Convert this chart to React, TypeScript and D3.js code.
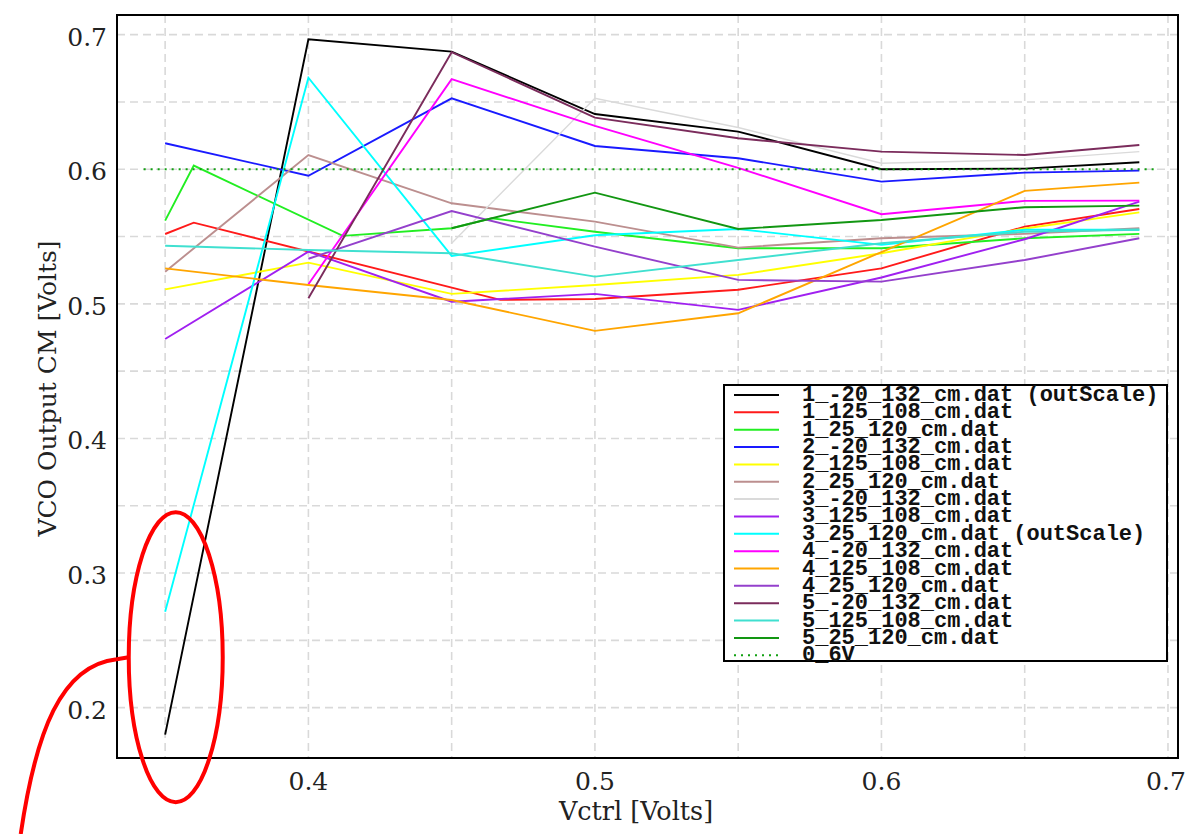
import * as d3 from 'd3';

type Pt = [number, number];

// series values (Vctrl, CM volts)
const s1_m20_132: Pt[] = [[0.35, 0.18], [0.4, 0.6966], [0.45, 0.6874], [0.5, 0.641], [0.55, 0.628], [0.6, 0.6], [0.65, 0.6005], [0.69, 0.6052]];
const s1_125_108: Pt[] = [[0.35, 0.5519], [0.36, 0.5603], [0.467, 0.503], [0.5, 0.5036], [0.55, 0.5105], [0.6, 0.5264], [0.65, 0.5574], [0.69, 0.5705]];
const s1_25_120: Pt[] = [[0.35, 0.5618], [0.36, 0.6027], [0.412, 0.5505], [0.45, 0.5562], [0.464, 0.5636], [0.5, 0.5536], [0.55, 0.5413], [0.6, 0.5413], [0.65, 0.5487], [0.69, 0.552]];
const s2_m20_132: Pt[] = [[0.35, 0.6193], [0.4, 0.5952], [0.45, 0.6527], [0.5, 0.6173], [0.55, 0.6082], [0.6, 0.5908], [0.65, 0.5975], [0.69, 0.599]];
const s2_125_108: Pt[] = [[0.35, 0.5108], [0.4, 0.5306], [0.45, 0.5074], [0.5, 0.514], [0.55, 0.5215], [0.6, 0.5376], [0.65, 0.556], [0.69, 0.568]];
const s2_25_120: Pt[] = [[0.35, 0.5239], [0.4, 0.6106], [0.45, 0.5747], [0.5, 0.5611], [0.55, 0.5418], [0.6, 0.5487], [0.65, 0.552], [0.69, 0.5562]];
const s3_m20_132: Pt[] = [[0.45, 0.545], [0.5, 0.6527], [0.55, 0.631], [0.6, 0.6045], [0.65, 0.607], [0.69, 0.6131]];
const s3_125_108: Pt[] = [[0.35, 0.4739], [0.4, 0.5388], [0.45, 0.5016], [0.5, 0.5074], [0.55, 0.4955], [0.6, 0.5196], [0.65, 0.548], [0.69, 0.5759]];
const s3_25_120: Pt[] = [[0.35, 0.2713], [0.4, 0.668], [0.45, 0.5356], [0.5, 0.551], [0.55, 0.5556], [0.6, 0.5438], [0.65, 0.555], [0.69, 0.555]];
const s4_m20_132: Pt[] = [[0.4, 0.5146], [0.45, 0.6669], [0.5, 0.6322], [0.55, 0.601], [0.6, 0.5666], [0.65, 0.5765], [0.69, 0.5767]];
const s4_125_108: Pt[] = [[0.35, 0.5264], [0.4, 0.514], [0.45, 0.5029], [0.5, 0.4799], [0.55, 0.493], [0.6, 0.5385], [0.65, 0.5839], [0.69, 0.5901]];
const s4_25_120: Pt[] = [[0.4, 0.5335], [0.45, 0.569], [0.5, 0.5425], [0.55, 0.5178], [0.6, 0.5165], [0.65, 0.5326], [0.69, 0.5487]];
const s5_m20_132: Pt[] = [[0.4, 0.5042], [0.45, 0.687], [0.5, 0.6384], [0.55, 0.623], [0.6, 0.6131], [0.65, 0.6106], [0.69, 0.618]];
const s5_125_108: Pt[] = [[0.35, 0.5432], [0.4, 0.54], [0.45, 0.5376], [0.5, 0.5202], [0.55, 0.5326], [0.6, 0.545], [0.65, 0.5536], [0.69, 0.555]];
const s5_25_120: Pt[] = [[0.45, 0.5562], [0.5, 0.5826], [0.55, 0.5556], [0.6, 0.5623], [0.65, 0.5718], [0.69, 0.573]];
const ref_0_6V: Pt[] = [[0.3425, 0.6], [0.6955, 0.6]];

const seriesData = [
  s1_m20_132, s1_125_108, s1_25_120, s2_m20_132, s2_125_108, s2_25_120,
  s3_m20_132, s3_125_108, s3_25_120, s4_m20_132, s4_125_108, s4_25_120,
  s5_m20_132, s5_125_108, s5_25_120, ref_0_6V,
];

const seriesNames = [
  '1_-20_132_cm.dat (outScale)',
  '1_125_108_cm.dat',
  '1_25_120_cm.dat',
  '2_-20_132_cm.dat',
  '2_125_108_cm.dat',
  '2_25_120_cm.dat',
  '3_-20_132_cm.dat',
  '3_125_108_cm.dat',
  '3_25_120_cm.dat (outScale)',
  '4_-20_132_cm.dat',
  '4_125_108_cm.dat',
  '4_25_120_cm.dat',
  '5_-20_132_cm.dat',
  '5_125_108_cm.dat',
  '5_25_120_cm.dat',
  '0_6V',
];

const colors = [
  '#000000', '#ff1a1a', '#22ee22', '#1a1aff', '#ffff00', '#bc8f8f',
  '#dadada', '#a020f0', '#00ffff', '#ff00ff', '#ffa500', '#9440cc',
  '#7b2c5c', '#40e0d0', '#129612', '#11a011',
];

const xTicks = [0.4, 0.5, 0.6, 0.7];
const yTicks = [0.2, 0.3, 0.4, 0.5, 0.6, 0.7];
const xGrid = d3.range(0.35, 0.7001, 0.05);
const yGrid = d3.range(0.2, 0.7001, 0.05);

const W = 1186;
const H = 834;
const PLOT = { left: 117, right: 1178, top: 15, bottom: 758 };

export default function App() {
  const x = d3.scaleLinear().domain([0.3332, 0.7035]).range([PLOT.left, PLOT.right]);
  const y = d3.scaleLinear().domain([0.1626, 0.7146]).range([PLOT.bottom, PLOT.top]);

  const line = d3.line<Pt>().x((d) => x(d[0])).y((d) => y(d[1]));

  // legend layout
  const lgX = 724;
  const lgY = 385;
  const lgW = 443;
  const lgH = 276;
  const rowH = 17.35;

  // red annotation around the low start points
  const ex = x(0.3537);
  const ey = y(0.2375);

  return (
    <svg
      width={W}
      height={H}
      style={{ position: 'absolute', left: 0, top: 0, background: '#fff' }}
      fontFamily="'DejaVu Serif', serif"
    >
      <rect x={0} y={0} width={W} height={H} fill="#fff" />

      {/* grid */}
      <g stroke="#d9d9d9" strokeWidth={1.6} strokeDasharray="8,5">
        {xGrid.map((v, i) => (
          <line key={'gx' + i} x1={x(v)} x2={x(v)} y1={PLOT.top} y2={PLOT.bottom} />
        ))}
        {yGrid.map((v, i) => (
          <line key={'gy' + i} x1={PLOT.left} x2={PLOT.right} y1={y(v)} y2={y(v)} />
        ))}
      </g>

      {/* series */}
      <g fill="none" strokeLinejoin="miter">
        {seriesData.map((d, i) => {
          const isRef = i === seriesData.length - 1;
          return (
            <path
              key={i}
              d={line(d) || ''}
              stroke={colors[i]}
              strokeWidth={isRef ? 2 : i === 6 ? 1.4 : 1.9}
              strokeDasharray={isRef ? '2,5' : undefined}
            />
          );
        })}
      </g>

      {/* frame */}
      <rect
        x={PLOT.left}
        y={PLOT.top}
        width={PLOT.right - PLOT.left}
        height={PLOT.bottom - PLOT.top}
        fill="none"
        stroke="#000"
        strokeWidth={2}
      />

      {/* tick labels */}
      <g fontSize={25} fill="#222">
        {yTicks.map((v) => (
          <text key={'ty' + v} x={107} y={y(v) + 11} textAnchor="end">
            {d3.format('.1f')(v)}
          </text>
        ))}
        {xTicks.map((v) => (
          <text key={'tx' + v} x={Math.min(x(v), 1166)} y={790} textAnchor="middle">
            {d3.format('.1f')(v)}
          </text>
        ))}
      </g>

      {/* axis titles */}
      <text x={636} y={820} fontSize={25.5} textAnchor="middle" fill="#222">
        Vctrl [Volts]
      </text>
      <text
        transform={`translate(56,${(PLOT.top + PLOT.bottom) / 2 + 2}) rotate(-90)`}
        fontSize={25}
        textAnchor="middle"
        fill="#222"
      >
        VCO Output CM [Volts]
      </text>

      {/* legend */}
      <g>
        <rect x={lgX} y={lgY} width={lgW} height={lgH} fill="#fff" stroke="#000" strokeWidth={2} />
        {seriesNames.map((name, i) => {
          const cy = lgY + 10 + i * rowH;
          const isRef = i === seriesNames.length - 1;
          return (
            <g key={name}>
              <line
                x1={734}
                x2={779}
                y1={cy}
                y2={cy}
                stroke={colors[i]}
                strokeWidth={2}
                strokeDasharray={isRef ? '2,5' : undefined}
              />
              <text
                x={802}
                y={cy + 6}
                fontFamily="'Liberation Mono', 'Courier New', monospace"
                fontWeight="bold"
                fontSize={22}
                fill="#111"
                xmlSpace="preserve"
              >
                {name}
              </text>
            </g>
          );
        })}
      </g>

      {/* red hand-drawn annotation */}
      <g fill="none" stroke="#ff0000" strokeWidth={4}>
        <ellipse cx={ex} cy={ey} rx={47} ry={145} />
        <path d={`M${ex - 47},${ey} L${ex - 59},${ey + 2} C${ex - 115},${ey + 8} ${ex - 140},${ey + 75} ${ex - 155},${H}`} />
      </g>
    </svg>
  );
}
